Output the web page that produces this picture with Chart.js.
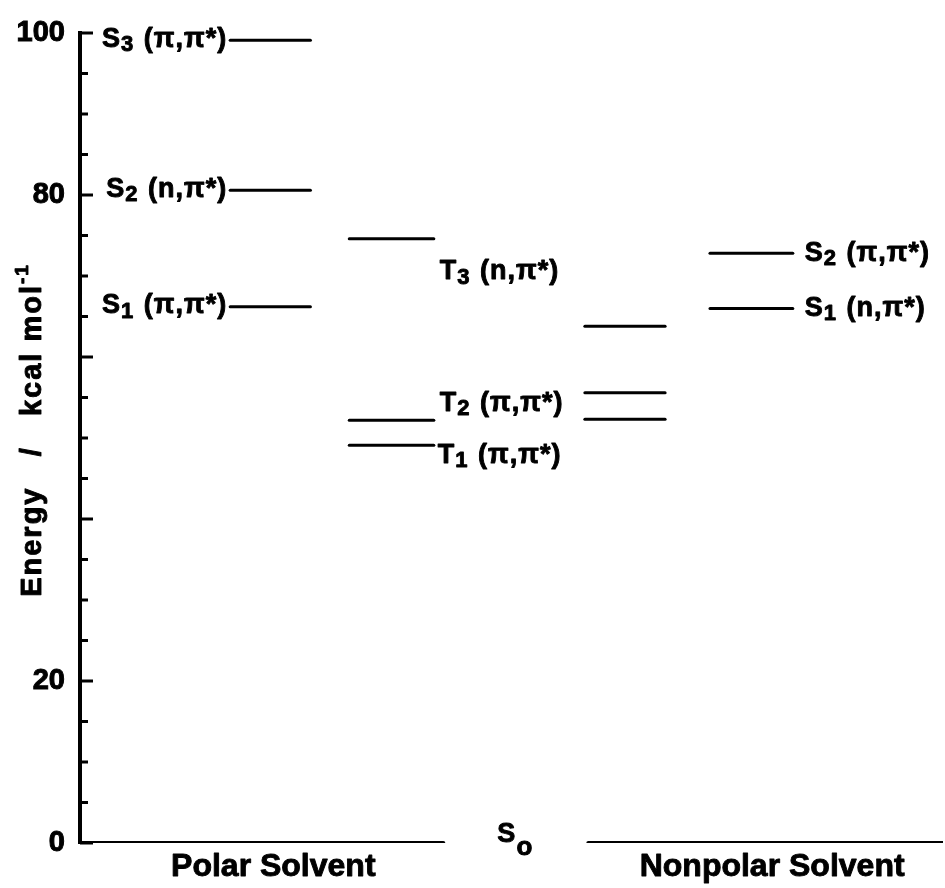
<!DOCTYPE html>
<html>
<head>
<meta charset="utf-8">
<script src="https://cdn.jsdelivr.net/npm/chart.js@4.4.0/dist/chart.umd.min.js"></script>
<style>
    html, body { margin: 0; padding: 0; background: #fff; }
    #wrap { width: 945px; height: 888px; }
</style>
</head>
<body>
<div id="wrap"><canvas id="myChart"></canvas></div>
<script>
// ============================================================
// DATA — energy levels in kcal/mol
// ============================================================

const solvents      = ['Polar Solvent', 'Nonpolar Solvent'];
const yTickValues   = [0, 20, 40, 60, 80, 100];
const yTickLabels   = ['0', '20', '', '', '80', '100'];

const polarSinglets        = [99.1, 80.6, 66.2];
const polarSingletNames    = ['S3 (π,π*)', 'S2 (n,π*)', 'S1 (π,π*)'];
const polarTriplets        = [74.6, 52.2, 49.1];
const polarTripletNames    = ['T3 (n,π*)', 'T2 (π,π*)', 'T1 (π,π*)'];
const nonpolarTriplets     = [63.8, 55.6, 52.3];
const nonpolarSinglets     = [72.8, 66.0];
const nonpolarSingletNames = ['S2 (π,π*)', 'S1 (n,π*)'];
const groundState          = [0, 0];
const groundName           = 'So';

// ============================================================
// LAYOUT — column spans on the hidden x scale (0..100)
// ============================================================

const FONT = "'Liberation Sans', Arial, Helvetica, sans-serif";
const colPolarS  = [17.4, 26.7];
const colPolarT  = [31.2, 41.0];
const colNonT    = [58.5, 67.8];
const colNonS    = [73.0, 82.6];
const colGround  = [[0, 42.1], [58.9, 99.9]];
const solventX   = [22.4, 80.2];

// label placement per level: align, x gap (px), y shift (px)
const polarSingletPos    = [['right', -3, -1], ['right', -3, -1], ['right', -3, -1]];
const polarTripletPos    = [['left', 6, 33], ['left', 6, -17], ['left', 4, 10]];
const nonpolarSingletPos = [['left', 12, 0], ['left', 12, 0]];

function levelSet(values, span, width) {
    return values.map(v => ({
        data: [{ x: span[0], y: v }, { x: span[1], y: v }],
        borderColor: '#000',
        borderWidth: width,
        pointRadius: 0,
        borderCapStyle: 'round',
        fill: false
    }));
}

const datasets = [
    ...levelSet(polarSinglets, colPolarS, 3),
    ...levelSet(polarTriplets, colPolarT, 3),
    ...levelSet(nonpolarTriplets, colNonT, 3),
    ...levelSet(nonpolarSinglets, colNonS, 3),
    ...groundState.map((v, i) => levelSet([v], colGround[i], 4)[0])
];

// heavy text: fill plus a thin stroke, like the printed figure
function heavyText(ctx, s, x, y) {
    ctx.fillText(s, x, y);
    ctx.strokeText(s, x, y);
}

// draws "S" + subscript + rest
function drawStateLabel(ctx, name, x, y, align, size, subScale, subDrop) {
    const main = name[0], sub = name[1], rest = name.slice(2);
    const big = `bold ${size}px ${FONT}`;
    const small = `bold ${Math.round(size * subScale)}px ${FONT}`;
    ctx.letterSpacing = '1px';
    ctx.font = big;   const w1 = ctx.measureText(main).width;
    const w3 = ctx.measureText(rest).width;
    ctx.font = small; const w2 = ctx.measureText(sub).width + 1;
    const total = w1 + w2 + w3;
    let sx = align === 'right' ? x - total : (align === 'center' ? x - total / 2 : x);
    ctx.textBaseline = 'middle';
    ctx.textAlign = 'left';
    ctx.font = big;   heavyText(ctx, main, sx, y);
    ctx.font = small; heavyText(ctx, sub, sx + w1, y + subDrop);
    ctx.font = big;   heavyText(ctx, rest, sx + w1 + w2, y);
    ctx.letterSpacing = '0px';
}

const levelLabels = {
    id: 'levelLabels',
    afterDatasetsDraw(chart) {
        const { ctx, scales: { x, y } } = chart;
        ctx.save();
        ctx.fillStyle = '#000';
        ctx.strokeStyle = '#000';
        ctx.lineWidth = 0.9;
        ctx.lineJoin = 'round';

        const put = (vals, names, pos, span) => vals.forEach((v, i) => {
            if (!names[i]) return;
            const [align, gap, dy] = pos[i];
            const px = align === 'right' ? x.getPixelForValue(span[0]) + gap
                                         : x.getPixelForValue(span[1]) + gap;
            drawStateLabel(ctx, names[i], px, y.getPixelForValue(v) + dy, align, 27, 0.82, 6);
        });
        put(polarSinglets, polarSingletNames, polarSingletPos, colPolarS);
        put(polarTriplets, polarTripletNames, polarTripletPos, colPolarT);
        put(nonpolarSinglets, nonpolarSingletNames, nonpolarSingletPos, colNonS);

        // ground state label between the two S0 lines
        const gx = (x.getPixelForValue(colGround[0][1]) + x.getPixelForValue(colGround[1][0])) / 2;
        drawStateLabel(ctx, groundName, gx, y.getPixelForValue(groundState[0]) - 8, 'center', 27, 0.95, 13);

        // solvent captions
        ctx.font = `bold 32px ${FONT}`;
        ctx.textAlign = 'center';
        ctx.textBaseline = 'middle';
        solvents.forEach((s, i) => heavyText(ctx, s, x.getPixelForValue(solventX[i]), y.getPixelForValue(0) + 24));

        // inward ticks on the energy axis
        ctx.lineWidth = 3;
        const ax = y.right;
        for (let v = 0; v <= 100; v += 5) {
            const py = y.getPixelForValue(v);
            const len = v % 20 === 0 ? 13 : 8;
            ctx.beginPath();
            ctx.moveTo(ax, py);
            ctx.lineTo(ax + len, py);
            ctx.stroke();
        }

        // axis title with superscript
        const title = 'Energy   /   kcal mol', sup = '-1';
        ctx.lineWidth = 0.9;
        ctx.letterSpacing = '2px';
        ctx.font = `bold 29px ${FONT}`;
        const tw = ctx.measureText(title).width;
        ctx.font = `bold 19px ${FONT}`;
        const sw = ctx.measureText(sup).width;
        ctx.translate(41, 430);
        ctx.rotate(-Math.PI / 2);
        ctx.textAlign = 'left';
        ctx.textBaseline = 'alphabetic';
        ctx.font = `bold 29px ${FONT}`;
        heavyText(ctx, title, -(tw + sw) / 2, 0);
        ctx.font = `bold 19px ${FONT}`;
        heavyText(ctx, sup, -(tw + sw) / 2 + tw, -13);
        ctx.restore();
    }
};

const ctx = document.getElementById('myChart');

new Chart(ctx, {
    type: 'line',
    data: { datasets },
    options: {
        responsive: true,
        maintainAspectRatio: false,
        animation: false,
        layout: { padding: { top: 33, bottom: 45, left: 0, right: 2 } },
        plugins: { legend: { display: false }, tooltip: { enabled: false } },
        scales: {
            x: {
                type: 'linear',
                min: 0,
                max: 100,
                display: false
            },
            y: {
                type: 'linear',
                min: 0,
                max: 100,
                afterBuildTicks: s => { s.ticks = yTickValues.map(v => ({ value: v })); },
                afterFit: s => { s.width = 80; },
                grid: { display: false, drawTicks: false },
                border: { display: true, color: '#000', width: 4 },
                ticks: {
                    padding: 15,
                    color: '#000',
                    textStrokeColor: '#000',
                    textStrokeWidth: 1,
                    font: { family: FONT, size: 29, weight: 'bold' },
                    callback: (v, i) => yTickLabels[i]
                }
            }
        }
    },
    plugins: [levelLabels]
});
</script>
</body>
</html>
